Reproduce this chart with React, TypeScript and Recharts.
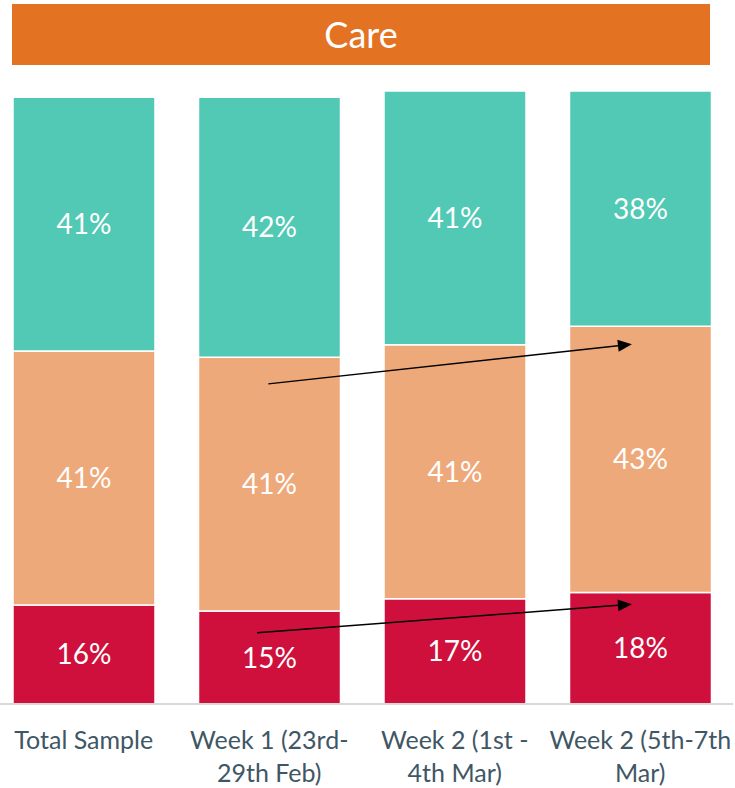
import React from 'react';
import {
  BarChart,
  Bar,
  XAxis,
  YAxis,
  LabelList,
  ReferenceLine,
} from 'recharts';

const categories = ['Total Sample', 'Week 1 (23rd-29th Feb)', 'Week 2 (1st - 4th Mar)', 'Week 2 (5th-7th Mar)'];
const tickLines = [
  ['Total Sample'],
  ['Week 1 (23rd-', '29th Feb)'],
  ['Week 2 (1st -', '4th Mar)'],
  ['Week 2 (5th-7th', 'Mar)'],
];
const bottomValues = [16, 15, 17, 18];
const middleValues = [41, 41, 41, 43];
const topValues = [41, 42, 41, 38];

// arrows drawn over the chart, in data units (x = category index)
const arrows = [
  { x1: 0.995, y1: 51.7, x2: 2.955, y2: 58.1 },
  { x1: 0.935, y1: 11.5, x2: 2.955, y2: 16.1 },
];

const data = categories.map((name, i) => ({
  name,
  idx: i,
  low: bottomValues[i],
  mid: middleValues[i],
  high: topValues[i],
}));

const FONT = 'Lato, "Open Sans", sans-serif';

function MultiLineTick(props: any) {
  const { x, y, index } = props;
  const lines = tickLines[index] || [];
  return (
    <g transform={`translate(${x},${y})`}>
      {lines.map((l, i) => (
        <text
          key={i}
          x={0}
          y={37 + i * 33}
          textAnchor="middle"
          fill="#3F5765"
          fontSize={25}
          fontFamily={FONT}
        >
          {l}
        </text>
      ))}
    </g>
  );
}

function Arrow(props: any) {
  const { x1, y1, x2, y2 } = props;
  const dx = x2 - x1;
  const dy = y2 - y1;
  const len = Math.sqrt(dx * dx + dy * dy);
  const ux = dx / len;
  const uy = dy / len;
  const head = 14;
  const half = 6;
  const bx = x2 - ux * head;
  const by = y2 - uy * head;
  const pts = `${x2},${y2} ${bx - uy * half},${by + ux * half} ${bx + uy * half},${by - ux * half}`;
  return (
    <g>
      <line x1={x1} y1={y1} x2={bx} y2={by} stroke="#000" strokeWidth={1.5} />
      <polygon points={pts} fill="#000" />
    </g>
  );
}

const pct = (v: any) => `${v}%`;

export default function App() {
  return (
    <div style={{ position: 'absolute', left: 0, top: 0, width: 735, height: 788, overflow: 'hidden', background: '#fff' }}>
      <div
        style={{
          position: 'absolute',
          left: 12,
          top: 4,
          width: 698,
          height: 61,
          background: '#E37222',
          color: '#fff',
          fontFamily: FONT,
          fontSize: 36,
          lineHeight: '61px',
          textAlign: 'center',
        }}
      >
        Care
      </div>
      <div style={{ position: 'absolute', left: -9, top: 0 }}>
        <BarChart
          width={742}
          height={788}
          data={data}
          margin={{ top: 91, right: 0, bottom: 0, left: 0 }}
          barSize={142}
        >
          <XAxis
            dataKey="name"
            axisLine={{ stroke: '#D9D9D9', strokeWidth: 2 }}
            tickLine={false}
            tick={<MultiLineTick />}
            interval={0}
            height={84}
          />
          <XAxis
            xAxisId="num"
            dataKey="idx"
            type="number"
            domain={[-0.5, 3.5]}
            allowDataOverflow
            hide
          />
          <YAxis domain={[0, 99]} hide />
          <Bar dataKey="low" stackId="a" fill="#CF103C" stroke="#fff" strokeWidth={1.5} isAnimationActive={false}>
            <LabelList dataKey="low" position="center" formatter={pct} fill="#fff" fontSize={28} fontFamily={FONT} />
          </Bar>
          <Bar dataKey="mid" stackId="a" fill="#EEA97B" stroke="#fff" strokeWidth={1.5} isAnimationActive={false}>
            <LabelList dataKey="mid" position="center" formatter={pct} fill="#fff" fontSize={28} fontFamily={FONT} />
          </Bar>
          <Bar dataKey="high" stackId="a" fill="#52C9B5" stroke="#fff" strokeWidth={1.5} isAnimationActive={false}>
            <LabelList dataKey="high" position="center" formatter={pct} fill="#fff" fontSize={28} fontFamily={FONT} />
          </Bar>
          {arrows.map((a, i) => (
            <ReferenceLine
              key={i}
              xAxisId="num"
              segment={[{ x: a.x1, y: a.y1 }, { x: a.x2, y: a.y2 }]}
              shape={(p: any) => <Arrow {...p} />}
              ifOverflow="visible"
            />
          ))}
        </BarChart>
      </div>
    </div>
  );
}
